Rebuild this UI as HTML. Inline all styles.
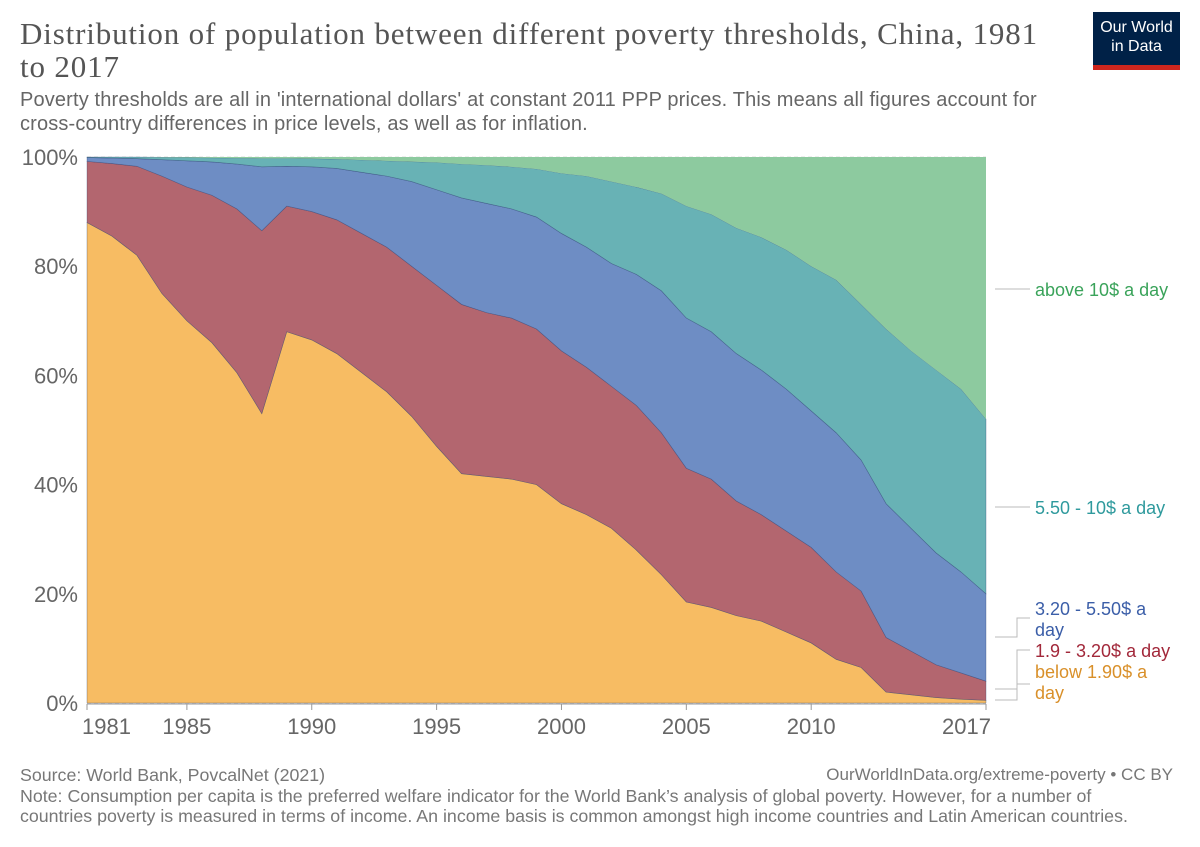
<!DOCTYPE html>
<html><head><meta charset="utf-8"><style>
body{margin:0;background:#fff;font-family:"Liberation Sans",sans-serif;}
#wrap{position:relative;width:1200px;height:847px;overflow:hidden;}
.t{position:absolute;white-space:nowrap;}
</style></head><body>
<div id="wrap">
<div class="t" style="left:20px;top:17px;font-family:'Liberation Serif',serif;font-size:31px;letter-spacing:0.85px;color:#555;line-height:33px;">Distribution of population between different poverty thresholds, China, 1981<br>to 2017</div>
<div class="t" style="left:20px;top:88px;font-size:20px;letter-spacing:0.15px;color:#666;line-height:24px;">Poverty thresholds are all in 'international dollars' at constant 2011 PPP prices. This means all figures account for<br>cross-country differences in price levels, as well as for inflation.</div>
<div style="position:absolute;left:1093px;top:12px;width:87px;height:58px;background:#002147;">
<div style="color:#fff;font-size:16px;text-align:center;line-height:19px;margin-top:6px;">Our World<br>in Data</div>
<div style="position:absolute;bottom:0;left:0;width:87px;height:5px;background:#ce261e;"></div></div>
<svg id="chart" width="1200" height="847" style="position:absolute;left:0;top:0"></svg>
<div class="t" style="left:20px;top:765px;font-size:17.8px;color:#777;line-height:20.5px;">Source: World Bank, PovcalNet (2021)<br>Note: Consumption per capita is the preferred welfare indicator for the World Bank’s analysis of global poverty. However, for a number of<br>countries poverty is measured in terms of income. An income basis is common amongst high income countries and Latin American countries.</div>
<div class="t" style="right:27px;top:765px;font-size:17px;color:#777;">OurWorldInData.org/extreme-poverty • CC BY</div>
</div>
<script>
const years=[];for(let y=1981;y<=2017;y++)years.push(y);
const below190=[88,85.5,82,75,70,66,60.5,53,68,66.5,64,60.5,57,52.5,47,42,41.5,41,40,36.5,34.5,32,28,23.5,18.5,17.5,16,15,13,11,8,6.5,2,1.5,1,0.7,0.5];
const from190to320=[11.2,13.3,16.3,21.5,24.5,27,30,33.5,23,23.5,24.5,25.5,26.5,27.5,29.5,31,30,29.5,28.5,28,27,26,26.5,26,24.5,23.5,21,19.5,18.5,17.5,16,14,10,8,6,4.8,3.5];
const from320to550=[0.7,1.0,1.4,3.0,4.8,6.1,8.2,11.7,7.3,8.2,9.4,11.2,13,15.5,17.5,19.5,20,20,20.5,21.5,22,22.5,24,26,27.5,27,27,26.5,26,25,25.5,24,24.5,22.5,20.5,18.5,16];
const from550to10=[0.1,0.2,0.3,0.45,0.6,0.75,1.1,1.55,1.45,1.5,1.7,2.25,2.8,3.65,5,6.2,7,7.7,8.8,11,13,15,16,17.8,20.5,21.5,23,24.3,25.5,26.5,28,28.5,32,32.5,33.5,33.5,32];
const above10=[0,0,0,0.05,0.1,0.15,0.2,0.25,0.25,0.3,0.4,0.55,0.7,0.85,1,1.3,1.5,1.8,2.2,3,3.5,4.5,5.5,6.7,9,10.5,13,14.7,17,20,22.5,27,31.5,35.5,39,42.5,48];
const yTicks=[0,20,40,60,80,100];
const xTicks=[1981,1985,1990,1995,2000,2005,2010,2017];
const series=[below190,from190to320,from320to550,from550to10,above10];
const names=['below-190','from-190-to-320','from-320-to-550','from-550-to-10','above-10'];
const colors=['#f7bc63','#b3666f','#6e8dc4','#68b2b5','#8dca9f'];
const NS='http://www.w3.org/2000/svg',svg=document.getElementById('chart');
const X0=87,X1=986,Y0=703,Y1=157;
const xs=y=>X0+(y-years[0])/(years[years.length-1]-years[0])*(X1-X0);
const ys=v=>Y0-v/100*(Y0-Y1);
function mk(t,a){const e=document.createElementNS(NS,t);for(const k in a)e.setAttribute(k,a[k]);svg.appendChild(e);return e;}
yTicks.forEach(v=>{
 const l=mk('line',{x1:X0,x2:X1,y1:ys(v),y2:ys(v),stroke:'#ddd','stroke-dasharray':'4,3'});
 
 
 const t=mk('text',{x:78,y:ys(v)+8,'text-anchor':'end','font-size':22,fill:'#666','font-family':'Liberation Sans'});t.textContent=v+'%';
 
 
});
const totals=years.map((_,i)=>series.reduce((s,a)=>s+a[i],0));
let base=years.map(()=>0);
series.forEach((arr,k)=>{
 const top=base.map((b,i)=>b+arr[i]/totals[i]*100);
 let d='M'+years.map((y,i)=>xs(y)+','+ys(top[i])).join('L');
 for(let i=years.length-1;i>=0;i--)d+='L'+xs(years[i])+','+ys(base[i]);
 const p=mk('path',{d:d+'Z',fill:colors[k],stroke:k<4?'rgba(40,60,110,0.5)':'none','stroke-width':0.6});
 
 
 base=top;
});
mk('line',{x1:X0,x2:X1,y1:Y0+1,y2:Y0+1,stroke:'#999'});
xTicks.forEach(y=>{
 mk('line',{x1:xs(y),x2:xs(y),y1:Y0+1,y2:Y0+7,stroke:'#999'});
 const t=mk('text',{x:xs(y),y:734,'text-anchor':y==1981?'start':y==2017?'end':'middle','font-size':22,fill:'#666','font-family':'Liberation Sans'});
 if(y==1981)t.setAttribute('x',xs(y)-5);
 if(y==2017)t.setAttribute('x',xs(y)+5);
 t.textContent=y;
 
 
});
const labels=[
 {lines:['above 10$ a day'],c:'#3aa35a',y:296,ly:289,sy:289},
 {lines:['5.50 - 10$ a day'],c:'#2f9a9d',y:514,ly:507,sy:507},
 {lines:['3.20 - 5.50$ a','day'],c:'#3b5ea8',y:615,ly:618,sy:637},
 {lines:['1.9 - 3.20$ a day'],c:'#a2283a',y:657,ly:650,sy:689},
 {lines:['below 1.90$ a','day'],c:'#d9902a',y:678,ly:684,sy:700}];
labels.forEach(L=>{
 const pl=mk('polyline',{points:`995,${L.sy} 1017,${L.sy} 1017,${L.ly} 1030,${L.ly}`,fill:'none',stroke:'#bbb'});
 
 
 L.lines.forEach((s,j)=>{
  const t=mk('text',{x:1035,y:L.y+j*21,'font-size':18,fill:L.c,'font-family':'Liberation Sans'});t.textContent=s;
  
  
 });
});
</script>
</body></html>
